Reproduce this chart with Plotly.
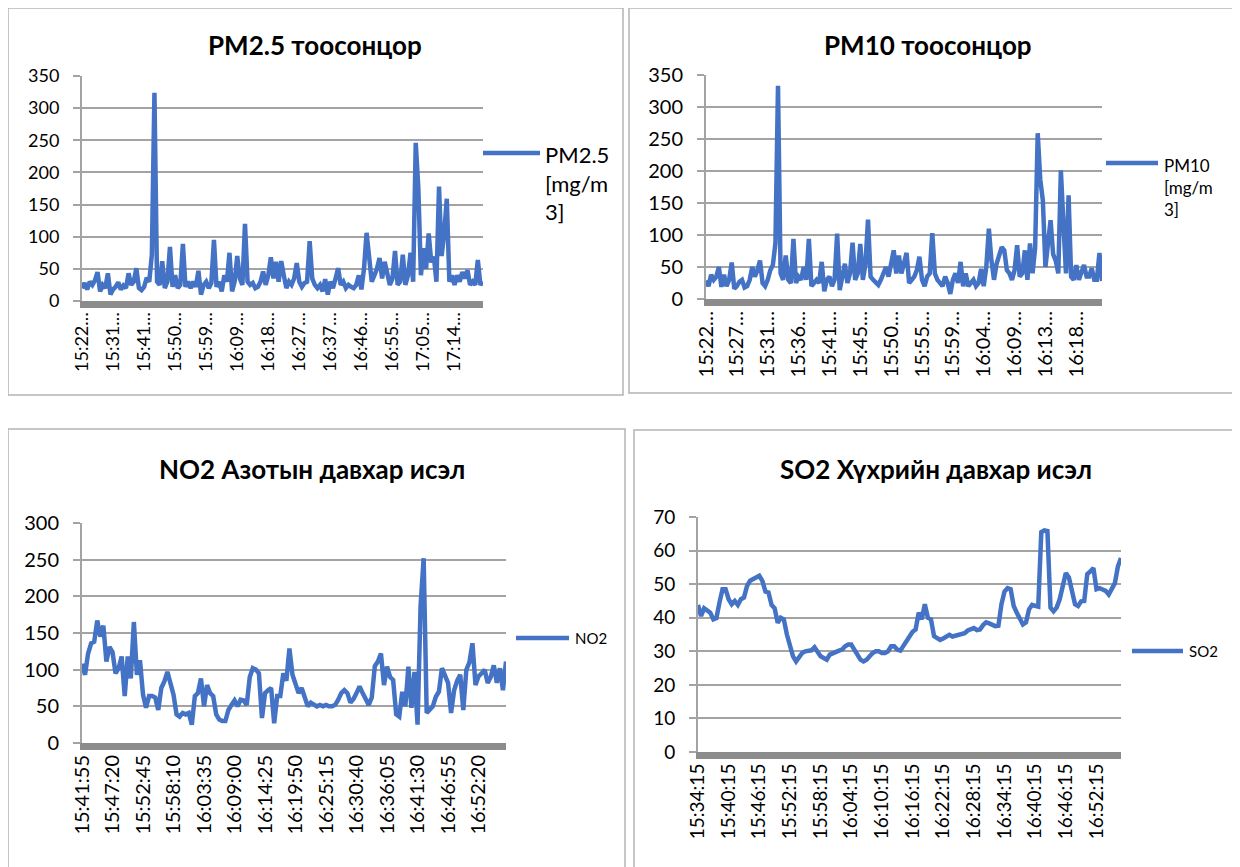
import plotly.graph_objects as go

# page is 1240x867; the html body keeps its default 8px margin, so the figure is
# sized to fit and every pixel position below is given in page coordinates
PAGE_OFF = 8
W, H = 1240 - PAGE_OFF, 867 - PAGE_OFF
BLUE = "#4472C4"
GRID = "#a3a3a3"
BAND = "#8c8c8c"
BORDER = "#b4b4b4"
FONT = "Lato, 'Open Sans', sans-serif"

# ---- data ----
pm25_labels = ["15:22\u2026", "15:31\u2026", "15:41\u2026", "15:50\u2026", "15:59\u2026", "16:09\u2026",
               "16:18\u2026", "16:27\u2026", "16:37\u2026", "16:46\u2026", "16:55\u2026", "17:05\u2026", "17:14\u2026"]
pm25 = [20, 28, 18, 30, 25, 32, 45, 15, 25, 20,
        43, 10, 18, 22, 29, 18, 24, 20, 43, 25,
        30, 51, 20, 17, 22, 36, 30, 72, 324, 30,
        25, 62, 20, 30, 84, 22, 40, 20, 25, 89,
        22, 30, 20, 30, 22, 47, 10, 25, 30, 20,
        28, 95, 22, 30, 15, 40, 30, 75, 15, 30,
        70, 35, 25, 120, 30, 25, 28, 20, 22, 30,
        46, 25, 40, 68, 35, 61, 30, 62, 40, 20,
        30, 25, 35, 59, 30, 22, 28, 30, 93, 35,
        25, 20, 25, 15, 34, 10, 30, 20, 35, 51,
        25, 30, 20, 25, 22, 20, 25, 40, 18, 50,
        106, 60, 30, 40, 50, 67, 35, 61, 45, 25,
        35, 78, 25, 30, 72, 25, 40, 75, 30, 246,
        176, 40, 82, 50, 105, 60, 69, 30, 178, 70,
        105, 159, 30, 40, 25, 40, 30, 45, 35, 48,
        25, 30, 25, 64, 25, 30]

pm10_labels = ["15:22\u2026", "15:27\u2026", "15:31\u2026", "15:36\u2026", "15:41\u2026", "15:45\u2026",
               "15:50\u2026", "15:55\u2026", "15:59\u2026", "16:04\u2026", "16:09\u2026", "16:13\u2026", "16:18\u2026"]
pm10 = [29, 20, 38, 30, 35, 50, 19, 38, 20, 30,
        57, 16, 20, 27, 30, 18, 20, 30, 50, 35,
        45, 60, 25, 20, 30, 45, 53, 87, 333, 40,
        30, 68, 30, 25, 94, 25, 35, 30, 50, 30,
        94, 20, 25, 30, 25, 58, 12, 30, 35, 20,
        30, 102, 14, 35, 55, 25, 40, 88, 30, 40,
        86, 30, 54, 124, 35, 30, 25, 22, 30, 40,
        50, 35, 60, 76, 40, 68, 40, 55, 72, 25,
        30, 35, 45, 66, 30, 20, 35, 40, 103, 40,
        30, 25, 20, 35, 25, 8, 30, 40, 25, 58,
        20, 40, 20, 25, 30, 20, 25, 47, 20, 50,
        110, 60, 30, 55, 70, 81, 76, 45, 40, 30,
        45, 84, 35, 40, 76, 30, 87, 40, 80, 259,
        186, 154, 50, 92, 123, 70, 60, 40, 201, 118,
        40, 162, 35, 30, 53, 30, 40, 53, 35, 35,
        48, 30, 30, 72, 28]

no2_labels = ["15:41:55", "15:47:20", "15:52:45", "15:58:10", "16:03:35", "16:09:00", "16:14:25",
              "16:19:50", "16:25:15", "16:30:40", "16:36:05", "16:41:30", "16:46:55", "16:52:20"]
no2 = [108, 93, 122, 136, 138, 167, 145, 160, 111, 131,
       124, 95, 102, 118, 64, 118, 88, 165, 93, 113,
       66, 48, 64, 64, 62, 45, 75, 84, 97, 84,
       66, 39, 36, 41, 39, 41, 25, 64, 68, 88,
       50, 79, 68, 64, 39, 32, 30, 30, 45, 52,
       58, 50, 59, 58, 52, 90, 102, 100, 95, 34,
       68, 72, 75, 27, 64, 64, 95, 85, 129, 93,
       80, 68, 75, 61, 50, 55, 53, 50, 52, 50,
       52, 50, 50, 52, 59, 68, 72, 68, 55, 60,
       68, 77, 68, 59, 52, 62, 105, 111, 122, 79,
       104, 90, 86, 39, 36, 70, 50, 104, 48, 97,
       25, 187, 252, 41, 45, 50, 63, 70, 102, 93,
       82, 41, 72, 85, 93, 45, 100, 110, 136, 79,
       91, 95, 100, 82, 90, 106, 82, 102, 72, 111]

so2_labels = ["15:34:15", "15:40:15", "15:46:15", "15:52:15", "15:58:15", "16:04:15", "16:10:15",
              "16:16:15", "16:22:15", "16:28:15", "16:34:15", "16:40:15", "16:46:15", "16:52:15"]
so2 = [43.8, 40.5, 42.8, 42.3, 41.5, 39.5, 39.9, 44.5, 48.5, 48.5,
       45.5, 44, 45, 43.8, 45.5, 46, 49.5, 51, 51.5, 52,
       52.5, 51, 47.8, 47.5, 43.8, 42.8, 38.5, 40, 39.5, 35,
       31, 28.5, 27, 28, 29.5, 30, 30.2, 30.3, 31.2, 29.5,
       28.5, 28, 27.5, 29, 29.5, 30, 30.2, 30.5, 31.5, 32,
       32, 30.5, 29, 27.5, 27, 27.5, 28.5, 29.5, 30, 30,
       29.5, 29.5, 30, 31.5, 31.5, 30.5, 30.2, 31.5, 32.8, 34.5,
       35.8, 36.5, 41.5, 39.5, 44, 40, 39.5, 34.5, 33.8, 33.4,
       33.8, 34.3, 34.9, 34.4, 34.6, 34.9, 35.2, 35.4, 36.2, 36.6,
       36.9, 36.3, 36.5, 37.8, 38.6, 38.3, 37.9, 37.5, 37.6, 44,
       47.8, 48.8, 48.5, 43.5, 41.5, 39.5, 38, 38.6, 42.5, 43.8,
       43.5, 43.3, 65.5, 66, 65.8, 43, 41.9, 43, 45.5, 50,
       53.3, 52, 48, 44, 43.5, 44.9, 45, 53, 53.8, 54.8,
       48.5, 48.8, 48.4, 48, 46.9, 48.8, 50.3, 55.3, 57.8]

# ---- panel layout (pixel boxes on the 1240x867 page) ----
panels = [
    dict(title="PM2.5 тоосонцор", values=pm25, labels=pm25_labels, step=12, ymax=350, dtick=50,
         box=(8, 623, 8, 395), plot=(82, 483, 76, 301), title_xy=(315, 45), tick_size=18,
         legend="PM2.5<br>[mg/m<br>3]", legend_line=(483, 540, 153), legend_xy=(543, 183), legend_size=22),
    dict(title="PM10 тоосонцор", values=pm10, labels=pm10_labels, step=12, ymax=350, dtick=50,
         box=(629, 1233, 8, 393), plot=(706, 1102, 75, 299), title_xy=(928, 45), tick_size=20,
         legend="PM10<br>[mg/m<br>3]", legend_line=(1106, 1158, 163), legend_xy=(1162, 187), legend_size=17),
    dict(title="NO2 Азотын давхар исэл", values=no2, labels=no2_labels, step=10, ymax=300, dtick=50,
         box=(8, 625, 429, 900), plot=(82, 506, 523, 743), title_xy=(312, 469), tick_size=20,
         legend="NO2", legend_line=(516, 569, 638), legend_xy=(573, 638), legend_size=15),
    dict(title="SO2 Хүхрийн давхар исэл", values=so2, labels=so2_labels, step=10, ymax=70, dtick=10,
         box=(634, 1245, 430, 900), plot=(698, 1121, 517, 752), title_xy=(936, 469), tick_size=19,
         legend="SO2", legend_line=(1132, 1183, 651), legend_xy=(1187, 651), legend_size=15),
]


def px(x):
    return (x - PAGE_OFF) / W


def py(y):
    return 1 - (y - PAGE_OFF) / H


fig = go.Figure()
shapes, annotations = [], []

for i, p in enumerate(panels, start=1):
    sfx = "" if i == 1 else str(i)
    n = len(p["values"])
    x0, x1, y0, y1 = p["plot"]
    tickvals = list(range(0, n, p["step"]))[:len(p["labels"])]

    fig.add_trace(go.Scatter(
        x=list(range(n)), y=p["values"], mode="lines",
        line=dict(color=BLUE, width=4.5), xaxis="x" + sfx, yaxis="y" + sfx,
        showlegend=False, hoverinfo="y",
    ))

    fig.layout["xaxis" + sfx] = dict(
        domain=[px(x0), px(x1)], range=[0, n - 1], anchor="y" + sfx,
        tickmode="array", tickvals=tickvals, ticktext=p["labels"], tickangle=-90,
        tickfont=dict(size=p["tick_size"], color="#000", family=FONT),
        showline=True, linecolor=BAND, linewidth=7, ticks="", ticklabelstandoff=-3,
        showgrid=False, zeroline=False, fixedrange=True, automargin=False,
    )
    fig.layout["yaxis" + sfx] = dict(
        domain=[py(y1), py(y0)], range=[0, p["ymax"]], dtick=p["dtick"], anchor="x" + sfx,
        tickfont=dict(size=p["tick_size"], color="#000", family=FONT),
        showgrid=True, gridcolor=GRID, gridwidth=2,
        showline=True, linecolor=GRID, linewidth=2,
        ticks="outside", ticklen=7, tickcolor=GRID, tickwidth=2, ticklabelstandoff=10,
        zeroline=False, fixedrange=True, automargin=False,
    )

    bx0, bx1, by0, by1 = p["box"]
    shapes.append(dict(type="rect", xref="paper", yref="paper",
                       x0=px(bx0), x1=px(bx1), y0=py(by1), y1=py(by0),
                       line=dict(color=BORDER, width=1.5), fillcolor="rgba(0,0,0,0)", layer="below"))

    lx0, lx1, ly = p["legend_line"]
    shapes.append(dict(type="line", xref="paper", yref="paper",
                       x0=px(lx0), x1=px(lx1), y0=py(ly), y1=py(ly),
                       line=dict(color=BLUE, width=4.5)))

    tx, ty = p["title_xy"]
    annotations.append(dict(text="<b>" + p["title"] + "</b>", x=px(tx), y=py(ty),
                            xref="paper", yref="paper", xanchor="center", yanchor="middle",
                            showarrow=False, font=dict(size=26, color="#000", family=FONT)))
    gx, gy = p["legend_xy"]
    annotations.append(dict(text=p["legend"], x=px(gx), y=py(gy), xref="paper", yref="paper",
                            xanchor="left", yanchor="middle", align="left", showarrow=False,
                            font=dict(size=p["legend_size"], color="#000", family=FONT)))

fig.update_layout(
    width=W, height=H, autosize=False,
    margin=dict(l=0, r=0, t=0, b=0, pad=0, autoexpand=False),
    paper_bgcolor="white", plot_bgcolor="white",
    font=dict(family=FONT, color="#000"),
    shapes=shapes, annotations=annotations,
    hovermode="closest",
)

fig.write_html("out.html", config=dict(responsive=False, displayModeBar=False))
